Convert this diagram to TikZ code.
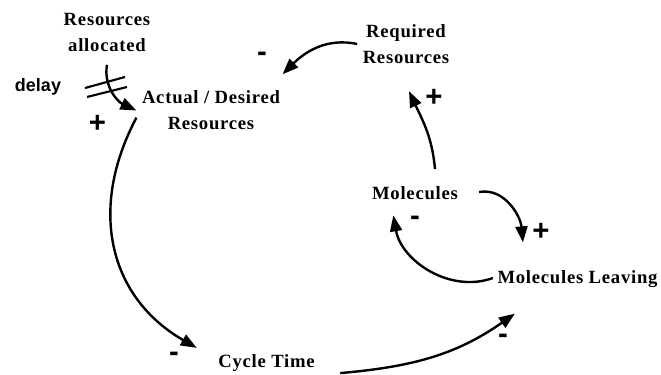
\documentclass[tikz,border=0pt]{standalone}
\usepackage{fontspec}
\setmainfont{Liberation Serif}
\setsansfont{Liberation Sans}
\newfontfamily\varfont[LetterSpace=4]{Liberation Serif}
\usetikzlibrary{arrows.meta}

\begin{document}
\begin{tikzpicture}[x=0.75pt, y=0.75pt,
  var/.style={font=\varfont\bfseries\fontsize{14}{19.5}\selectfont, align=center, inner sep=1pt},
  sign/.style={font=\sffamily\bfseries\fontsize{22}{22}\selectfont, inner sep=0pt},
  link/.style={line width=1.8pt, -{Triangle[length=12pt,width=9pt]}}]
\useasboundingbox (0,0) rectangle (661,375);
\node (alloc) [var] at (107,343) {Resources\\allocated};
\node (delay) [font=\sffamily\bfseries\fontsize{13.5}{15}\selectfont] at (38,288) {delay};
\node (act) [var] at (211,264.5) {Actual / Desired\\Resources};
\node (req) [var] at (406,331) {Required\\Resources};
\node (mol) [var, inner sep=0pt] at (415,182) {Molecules};
\node (leav) [var] at (577.5,95.5) {Molecules Leaving};
\node (cyc) [var] at (266.5,12) {Cycle Time};
% links
\draw[link] ([shift={(0,-12)}]alloc.south) to[out=-100,in=155] ([shift={(-4,0)}]act.west);
\draw[link] ([shift={(-4,0)}]req.west) to[out=168,in=45] ([shift={(1,15)}]act.north east);
\draw[link] ([shift={(20,17)}]mol.north) to[out=95,in=-65] ([shift={(3,-26)}]req.south);
\draw[link] ([shift={(21,1)}]mol.east) to[out=10,in=95] ([shift={(27,27)}]leav.north west);
\draw[link] ([shift={(-3,1.5)}]leav.west) to[out=200,in=-80] ([shift={(21.5,-15.5)}]mol.south west);
\draw[link] ([shift={(-4,14)}]act.south west) to[out=-118,in=150,looseness=1.1] ([shift={(-20,5)}]cyc.north west);
\draw[link] ([shift={(24,0)}]cyc.south east) to[out=5,in=215] ([shift={(19,-24)}]leav.south west);
% delay marks
\coordinate (dly) at (106,288);
\draw[line width=1.6pt] ([shift={(-21,-1)}]dly) -- ([shift={(19,10)}]dly);
\draw[line width=1.6pt] ([shift={(-19,-10)}]dly) -- ([shift={(21,0)}]dly);
% polarities
\node (s1) [sign] at (97.5,251) {+};
\node (s2) [sign] at (262,318) {-};
\node (s3) [sign] at (434,277) {+};
\node (s4) [sign] at (541,143) {+};
\node (s5) [sign] at (415,154) {-};
\node (s6) [sign] at (174,18) {-};
\node (s7) [sign] at (503,36) {-};
\end{tikzpicture}
\end{document}
